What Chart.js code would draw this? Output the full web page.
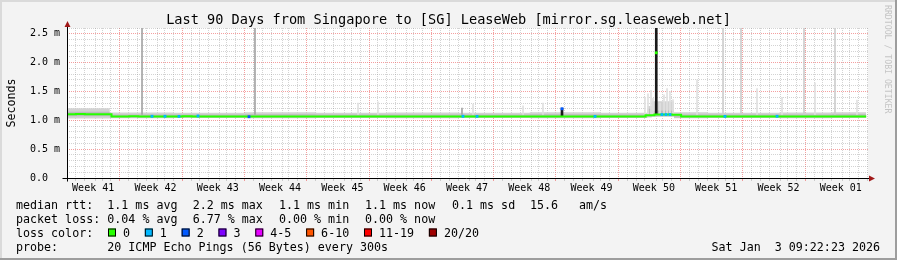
<!DOCTYPE html>
<html>
<head>
<meta charset="utf-8">
<script src="https://cdn.jsdelivr.net/npm/chart.js@4.4.1/dist/chart.umd.min.js"></script>
<style>
  html, body { margin: 0; padding: 0; background: #f3f3f3; }
  canvas { display: block; }
</style>
</head>
<body>
<canvas id="smoke" width="897" height="260"></canvas>
<script>
// ---- data (x = days since left edge of graph, y = ms) ----
const endDay = 89.8;

// median rtt, one value per day (day 0 .. 89)
const medianMs = [
  1.105, 1.108, 1.106, 1.104, 1.106,
  1.068, 1.066, 1.070, 1.066, 1.068, 1.064, 1.068, 1.066, 1.070, 1.066,
  1.066, 1.068, 1.064, 1.066, 1.068, 1.064, 1.066, 1.068, 1.066, 1.064,
  1.066, 1.068, 1.066, 1.064, 1.068, 1.066, 1.064, 1.066, 1.068, 1.066,
  1.064, 1.066, 1.068, 1.066, 1.064, 1.066, 1.068, 1.064, 1.066, 1.068,
  1.066, 1.064, 1.066, 1.068, 1.066, 1.064, 1.066, 1.068, 1.066, 1.064,
  1.066, 1.064, 1.066, 1.068, 1.066, 1.064, 1.066, 1.064, 1.066, 1.066,
  1.088, 1.100, 1.102, 1.098, 1.064,
  1.066, 1.068, 1.066, 1.064, 1.066, 1.068, 1.066, 1.064, 1.066, 1.068,
  1.066, 1.064, 1.066, 1.068, 1.066, 1.064, 1.066, 1.068, 1.066, 1.068
];

// smoke band break points
const smokeDays = [0, 4.8, 12, 20, 28, 36, 44, 52, 60, 65.2, 65.7, 68.2, 72, 80, 86];
const smokeHigh = [1.21, 1.135, 1.13, 1.14, 1.13, 1.135, 1.13, 1.14, 1.13, 1.25, 1.33, 1.14, 1.13, 1.135, 1.14];
const smokeLow  = [1.03, 1.035, 1.04, 1.035, 1.04, 1.035, 1.04, 1.035, 1.04, 1.05, 1.06, 1.035, 1.04, 1.035, 1.04];
const coreHigh  = [1.15, 1.10, 1.10, 1.105, 1.10, 1.10, 1.10, 1.105, 1.10, 1.20, 1.17, 1.10, 1.10, 1.10, 1.105];
const coreLow   = [1.07, 1.05, 1.05, 1.048, 1.05, 1.05, 1.05, 1.048, 1.05, 1.06, 1.07, 1.05, 1.05, 1.05, 1.05];

// single outlier pings drawn as thin smoke spikes
const spikeBase = 1.1;
const greySpikeDays  = [8.43, 21.12, 44.38];
const greySpikeTops  = [2.6, 2.6, 1.21];
const paleSpikeDays  = [73.71, 75.73, 82.81, 86.29];
const paleSpikeTops  = [2.6, 2.6, 2.6, 2.6];
const faintSpikeDays = [32.70, 34.94, 45.62, 51.24, 53.48, 64.94, 65.28, 65.62, 65.84, 66.63, 67.08, 67.42, 67.75, 68.09, 70.79, 77.53, 80.34, 84.04, 88.76];
const faintSpikeTops = [1.30, 1.32, 1.28, 1.25, 1.30, 1.40, 1.46, 1.52, 1.38, 1.30, 1.44, 1.55, 1.50, 1.36, 1.70, 1.55, 1.40, 1.65, 1.35];
const darkSpikeDays  = [55.62, 66.21];
const darkSpikeLows  = [1.07, 1.10];
const darkSpikeTops  = [1.21, 2.6];

// median samples with packet loss / the peak sample
const peakDays = [66.21];
const peakMs = [2.17];
const loss1Days = [9.55, 11.01, 12.58, 14.72, 44.49, 46.07, 59.33, 66.85, 67.30, 67.75, 73.93, 79.78];
const loss1Ms   = [1.070, 1.070, 1.068, 1.075, 1.070, 1.068, 1.068, 1.100, 1.100, 1.100, 1.068, 1.070];
const loss2Days = [20.45, 55.62];
const loss2Ms   = [1.062, 1.20];

// axes
const firstWeekLine = 6.44;
const weekLabels = ['Week 41', 'Week 42', 'Week 43', 'Week 44', 'Week 45', 'Week 46', 'Week 47',
  'Week 48', 'Week 49', 'Week 50', 'Week 51', 'Week 52', 'Week 01'];
const yMax = 2.6;

// legend texts
const titleText = 'Last 90 Days from Singapore to [SG] LeaseWeb [mirror.sg.leaseweb.net]';
const rttStats = ['1.1 ms avg', '2.2 ms max', '1.1 ms min', '1.1 ms now', '0.1 ms sd', '15.6', 'am/s'];
const lossStats = ['0.04 % avg', '6.77 % max', '0.00 % min', '0.00 % now'];
const lossLabels = ['0', '1', '2', '3', '4-5', '6-10', '11-19', '20/20'];
const probeText = '20 ICMP Echo Pings (56 Bytes) every 300s';
const stampText = 'Sat Jan  3 09:22:23 2026';

// ---- helpers ----
const MONO = '"DejaVu Sans Mono", monospace';
const lossColors = ['#26ff00', '#00b8ff', '#0059ff', '#7e00ff', '#e600ff', '#ff5500', '#ff0000', '#a00000'];
const MINOR = 'rgba(140,140,140,0.38)';
const MAJOR = 'rgba(235,80,80,0.55)';

const pts = (xs, ys) => xs.map((x, i) => ({ x: x, y: ys[i] }));
const stepped = (xs, ys) => pts(xs, ys).concat([{ x: endDay, y: ys[ys.length - 1] }]);
const bars = (xs, lows, tops) => xs.map((x, i) => ({ x: x, y: [Array.isArray(lows) ? lows[i] : lows, tops[i]] }));

const dayIndex = medianMs.map((_, i) => i);

const dayLines = [];
for (let d = firstWeekLine - 6; d < 90; d += 1) dayLines.push(Math.round(d * 100) / 100);
const weekCenters = weekLabels.map((_, i) => firstWeekLine - 3.5 + 7 * i);
const xTickValues = dayLines.concat(weekCenters).sort((a, b) => a - b);
const near = (a, b) => Math.abs(a - b) < 0.01;
const weekLabelAt = v => { const i = weekCenters.findIndex(c => near(c, v)); return i < 0 ? null : weekLabels[i]; };
const isWeekLine = v => { const r = (((v - firstWeekLine) % 7) + 7) % 7; return r < 0.01 || r > 6.99; };

const yTickValues = [];
for (let i = 0; i <= Math.round(yMax * 10); i++) yTickValues.push(i / 10);
const isHalf = v => Math.abs(v * 2 - Math.round(v * 2)) < 1e-6;

// ---- frame, axes and legend drawn around the plot ----
const rrdFrame = {
  id: 'rrdFrame',
  beforeDraw(chart) {
    const { ctx, chartArea: a, width, height } = chart;
    ctx.save();
    ctx.fillStyle = '#f3f3f3';
    ctx.fillRect(0, 0, width, height);
    ctx.fillStyle = '#ffffff';
    ctx.fillRect(a.left, a.top, a.right - a.left, a.bottom - a.top);
    ctx.fillStyle = '#dadada';
    ctx.fillRect(0, 0, width, 2);
    ctx.fillRect(0, 0, 2, height);
    ctx.fillStyle = '#9d9d9d';
    ctx.fillRect(0, height - 2, width, 2);
    ctx.fillRect(width - 2, 0, 2, height);
    ctx.restore();
  },
  afterDraw(chart) {
    const { ctx, chartArea: a } = chart;
    const x0 = Math.round(a.left) + 0.5, y0 = Math.round(a.bottom) + 0.5;
    ctx.save();
    // axes
    ctx.strokeStyle = '#000';
    ctx.lineWidth = 1;
    ctx.beginPath();
    ctx.moveTo(x0, y0 + 3); ctx.lineTo(x0, a.top - 2);
    ctx.moveTo(x0 - 5, y0); ctx.lineTo(a.right + 2, y0);
    ctx.stroke();
    ctx.fillStyle = '#a01818';
    ctx.beginPath();
    ctx.moveTo(x0 - 3, a.top - 1); ctx.lineTo(x0 + 3, a.top - 1); ctx.lineTo(x0, a.top - 7); ctx.closePath();
    ctx.moveTo(a.right + 1, y0 - 3); ctx.lineTo(a.right + 1, y0 + 3); ctx.lineTo(a.right + 7, y0); ctx.closePath();
    ctx.fill();

    // title
    ctx.fillStyle = '#000';
    ctx.font = '13.6px ' + MONO;
    ctx.textAlign = 'center';
    ctx.textBaseline = 'alphabetic';
    ctx.fillText(titleText, 448.5, 24);

    // legend rows
    ctx.font = '11.66px ' + MONO;
    ctx.textAlign = 'left';
    const rows = [208.5, 222.5, 236.5, 250.5];
    const cols = [107.3, 192.7, 279, 365, 452, 530, 579];
    ctx.fillText('median rtt:', 16, rows[0]);
    rttStats.forEach((t, i) => ctx.fillText(t, cols[i], rows[0]));
    ctx.fillText('packet loss:', 16, rows[1]);
    lossStats.forEach((t, i) => ctx.fillText(t, cols[i], rows[1]));
    ctx.fillText('loss color:', 16, rows[2]);
    const cw = ctx.measureText('0').width;
    let sx = 108;
    lossLabels.forEach((t, i) => {
      ctx.fillStyle = lossColors[i];
      ctx.fillRect(sx, rows[2] - 8, 8, 8);
      ctx.strokeStyle = '#000';
      ctx.strokeRect(sx + 0.5, rows[2] - 7.5, 7, 7);
      ctx.fillStyle = '#000';
      ctx.fillText(t, sx + 15, rows[2]);
      sx += 15 + t.length * cw + 14.8;
    });
    ctx.fillText('probe:', 16, rows[3]);
    ctx.fillText(probeText, 107.3, rows[3]);
    ctx.textAlign = 'right';
    ctx.fillText(stampText, 880, rows[3]);

    // vertical watermark
    ctx.translate(887.5, 5);
    ctx.rotate(Math.PI / 2);
    ctx.font = '8.2px ' + MONO;
    ctx.fillStyle = '#c4c4c4';
    ctx.textAlign = 'left';
    ctx.textBaseline = 'middle';
    ctx.fillText('RRDTOOL / TOBI OETIKER', 0, 0);
    ctx.restore();
  }
};

// 'before' keeps each value until the next sample
const band = (data, extra) => Object.assign({
  type: 'line', data: data, stepped: 'before', pointRadius: 0, borderWidth: 0, fill: false
}, extra);
const spikes = (data, color, thick, order) => ({
  type: 'bar', data: data, backgroundColor: color, barThickness: thick, grouped: false,
  borderWidth: 0, order: order
});
const dots = (data, color, order) => ({
  type: 'line', data: data, showLine: false, pointStyle: 'rect', pointRadius: 2,
  pointBackgroundColor: color, pointBorderWidth: 0, order: order
});

new Chart(document.getElementById('smoke'), {
  type: 'line',
  data: {
    datasets: [
      dots(pts(loss1Days, loss1Ms), lossColors[1], 0),
      dots(pts(loss2Days, loss2Ms), lossColors[2], 0),
      dots(pts(peakDays, peakMs), lossColors[0], 0),
      band(stepped(dayIndex, medianMs), { borderColor: lossColors[0], borderWidth: 2, order: 1 }),
      spikes(bars(darkSpikeDays, darkSpikeLows, darkSpikeTops), '#1a1a1a', 2, 2),
      spikes(bars(greySpikeDays, spikeBase, greySpikeTops), '#a4a4a4', 1, 3),
      spikes(bars(paleSpikeDays, spikeBase, paleSpikeTops), '#cdcdcd', 1, 4),
      spikes(bars(faintSpikeDays, spikeBase, faintSpikeTops), '#e0e0e0', 1, 5),
      band(stepped(smokeDays, coreHigh), { fill: '+1', backgroundColor: '#bcbcbc', order: 6 }),
      band(stepped(smokeDays, coreLow), { order: 7 }),
      band(stepped(smokeDays, smokeHigh), { fill: '+1', backgroundColor: '#d2d2d2', order: 8 }),
      band(stepped(smokeDays, smokeLow), { order: 9 })
    ]
  },
  options: {
    responsive: false,
    animation: false,
    devicePixelRatio: 1,
    events: [],
    layout: { padding: { left: 0, right: 29, top: 28, bottom: 0 } },
    plugins: { legend: { display: false }, tooltip: { enabled: false } },
    scales: {
      x: {
        type: 'linear', min: 0, max: 90, offset: false,
        afterBuildTicks: s => { s.ticks = xTickValues.map(v => ({ value: v })); },
        afterFit: s => { s.height = 82; },
        grid: {
          color: c => {
            const v = c.tick ? c.tick.value : 0;
            if (weekLabelAt(v) !== null) return 'rgba(0,0,0,0)';
            return isWeekLine(v) ? MAJOR : MINOR;
          },
          drawTicks: true, tickLength: 3
        },
        border: { display: false, dash: [1, 1] },
        ticks: {
          autoSkip: false, maxRotation: 0, minRotation: 0, padding: 1, color: '#000',
          font: { family: MONO, size: 10 },
          callback: v => weekLabelAt(v) || ''
        }
      },
      y: {
        type: 'linear', min: 0, max: yMax,
        afterBuildTicks: s => { s.ticks = yTickValues.map(v => ({ value: v })); },
        afterFit: s => { s.width = 67; },
        grid: {
          color: c => (c.tick && isHalf(c.tick.value) ? MAJOR : MINOR),
          drawTicks: false
        },
        border: { display: false, dash: [1, 1] },
        ticks: {
          autoSkip: false, padding: 7, color: '#000', font: { family: MONO, size: 10 },
          callback: v => {
            if (!isHalf(v)) return '';
            return v === 0 ? '0.0  ' : v.toFixed(1) + ' m';
          }
        },
        title: {
          display: true, text: 'Seconds', color: '#000',
          font: { family: MONO, size: 11.66 }, padding: { top: 4.5, bottom: 0 }
        }
      }
    }
  },
  plugins: [rrdFrame]
});
</script>
</body>
</html>
